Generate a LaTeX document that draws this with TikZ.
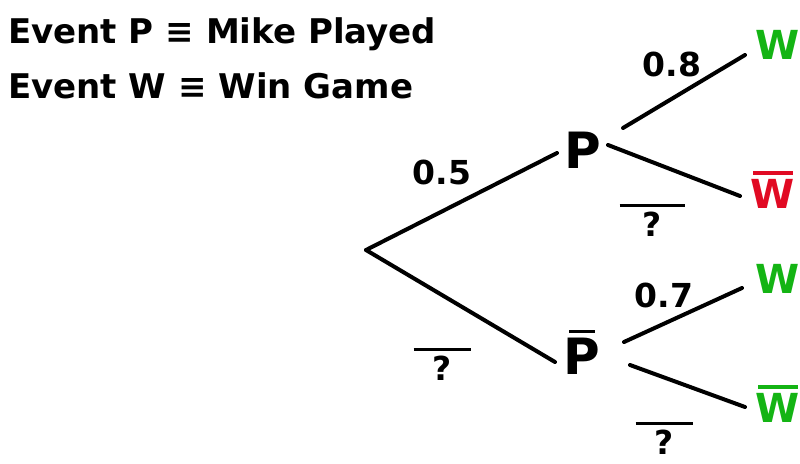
\documentclass[tikz,border=0pt]{standalone}
\usepackage{fontspec}
\usetikzlibrary{calc}
\setmainfont{DejaVu Sans}
\definecolor{wingreen}{RGB}{20,180,20}
\definecolor{losered}{RGB}{225,10,35}
\newcommand\ovl[2]{\setbox0\hbox{#2}\vbox{\hrule height 3.5pt width #1\kern 5pt\hbox to #1{\hss\box0\hss}}}
\begin{document}
\begin{tikzpicture}[x=1pt,y=-1pt,
  branch/.style={line width=4pt,line cap=round},
  state/.style={font=\bfseries\fontsize{50}{50}\selectfont,inner sep=4pt},
  leaf/.style={font=\bfseries\fontsize{40}{40}\selectfont,inner sep=5pt},
  prob/.style={font=\bfseries\fontsize{33}{33}\selectfont,inner sep=0pt},
  head/.style={font=\bfseries\fontsize{34}{34}\selectfont,anchor=west,inner sep=0pt}]
\useasboundingbox (0,0) rectangle (800,463);
\node[head] (h1) at (8,34) {Event P ≡ Mike Played};
\node[head] (h2) at (8,86) {Event W ≡ Win Game};
\coordinate (root) at (366,250);
\node[state] (P) at (583,150) {P};
\node[state] (Pb) at (582,352) {\ovl{26pt}{P}};
\node[leaf,text=wingreen] (W1) at (778,45) {W};
\node[leaf,text=losered] (W2) at (773,190) {\ovl{40pt}{W}};
\node[leaf,text=wingreen] (W3) at (778,279) {W};
\node[leaf,text=wingreen] (W4) at (778,404) {\ovl{40pt}{W}};
\draw[branch] (root) -- ($(P)+(-26,3)$);
\draw[branch] (root) -- ($(Pb)+(-27,10)$);
\draw[branch] ($(P)+(40,-22)$) -- ($(W1)+(-33,10)$);
\draw[branch] ($(P)+(25,-5)$) -- ($(W2)+(-33,6)$);
\draw[branch] ($(Pb)+(42,-10)$) -- ($(W3)+(-36,9)$);
\draw[branch] ($(Pb)+(48,13)$) -- ($(W4)+(-33,3)$);
\node[prob] (p1) at (442,172) {0.5};
\node[prob] (p2) at (672,64) {0.8};
\node[prob] (p3) at (664,295) {0.7};
\node[prob] (q1) at (652,220) {\ovl{65pt}{?}};
\node[prob] (q2) at (442,364) {\ovl{57pt}{?}};
\node[prob] (q3) at (664,438) {\ovl{57pt}{?}};
\end{tikzpicture}
\end{document}
